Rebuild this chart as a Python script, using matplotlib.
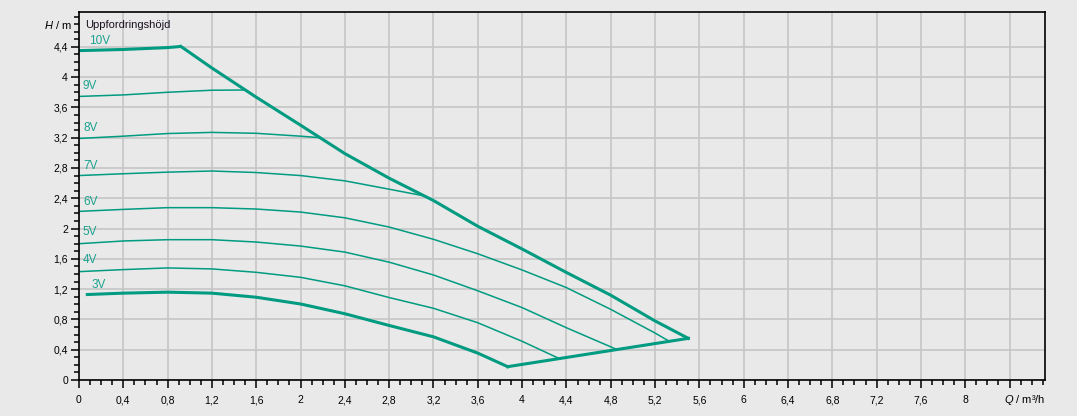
import matplotlib
matplotlib.use("Agg")
import matplotlib.pyplot as plt
from matplotlib.ticker import FixedLocator, MultipleLocator

# pump curves, Q in m3/h, H in m
x_10v = [0, 0.4, 0.8, 0.92]
y_10v = [4.35, 4.365, 4.39, 4.405]
x_max = [0.92, 1.2, 1.6, 2.0, 2.4, 2.8, 3.2, 3.6, 4.0, 4.4, 4.8, 5.2, 5.5]
y_max = [4.405, 4.12, 3.735, 3.365, 2.99, 2.665, 2.37, 2.03, 1.73, 1.42, 1.12, 0.78, 0.55]
x_bottom = [3.87, 5.5]
y_bottom = [0.176, 0.55]
x_9v = [0, 0.4, 0.8, 1.2, 1.5]
y_9v = [3.745, 3.765, 3.80, 3.827, 3.83]
x_8v = [0, 0.4, 0.8, 1.2, 1.6, 2.0, 2.18]
y_8v = [3.19, 3.22, 3.255, 3.27, 3.258, 3.22, 3.20]
x_7v = [0, 0.4, 0.8, 1.2, 1.6, 2.0, 2.4, 2.8, 3.12]
y_7v = [2.70, 2.724, 2.745, 2.76, 2.74, 2.70, 2.63, 2.52, 2.43]
x_6v = [0, 0.4, 0.8, 1.2, 1.6, 2.0, 2.4, 2.8, 3.2, 3.6, 4.0, 4.4, 4.8, 5.2, 5.33]
y_6v = [2.227, 2.253, 2.276, 2.276, 2.258, 2.218, 2.142, 2.02, 1.858, 1.667, 1.453, 1.22, 0.933, 0.62, 0.51]
x_5v = [0, 0.4, 0.8, 1.2, 1.6, 2.0, 2.4, 2.8, 3.2, 3.6, 4.0, 4.4, 4.86]
y_5v = [1.80, 1.836, 1.853, 1.853, 1.822, 1.769, 1.689, 1.556, 1.387, 1.178, 0.956, 0.69, 0.40]
x_4v = [0, 0.4, 0.8, 1.2, 1.6, 2.0, 2.4, 2.8, 3.2, 3.6, 4.0, 4.34]
y_4v = [1.431, 1.458, 1.48, 1.467, 1.422, 1.356, 1.244, 1.089, 0.947, 0.756, 0.511, 0.28]
x_3v = [0.075, 0.4, 0.8, 1.2, 1.6, 2.0, 2.4, 2.8, 3.2, 3.6, 3.87]
y_3v = [1.129, 1.147, 1.16, 1.147, 1.093, 1.004, 0.875, 0.72, 0.57, 0.355, 0.176]

x_ticks = [i * 0.4 for i in range(22)]
y_ticks = [i * 0.4 for i in range(12)]

plt.rcParams['font.family'] = ['Liberation Sans', 'DejaVu Sans']
plt.rcParams['mathtext.fontset'] = 'custom'
plt.rcParams['mathtext.it'] = 'Liberation Sans:italic'
plt.rcParams['mathtext.rm'] = 'Liberation Sans'

bg = '#e9e9e9'
line_c = '#009b80'
text_c = '#1ca28e'

fig = plt.figure(figsize=(10.77, 4.16), dpi=100, facecolor=bg)
ax = fig.add_axes([79 / 1077, 36 / 416, 966 / 1077, 368 / 416])
ax.set_facecolor(bg)

thin = 1.1
thick = 2.2
ax.plot(x_9v, y_9v, color=line_c, lw=thin)
ax.plot(x_8v, y_8v, color=line_c, lw=thin)
ax.plot(x_7v, y_7v, color=line_c, lw=thin)
ax.plot(x_6v, y_6v, color=line_c, lw=thin)
ax.plot(x_5v, y_5v, color=line_c, lw=thin)
ax.plot(x_4v, y_4v, color=line_c, lw=thin)
ax.plot(x_10v, y_10v, color=line_c, lw=thick, solid_capstyle='butt')
ax.plot(x_max, y_max, color=line_c, lw=thick, solid_joinstyle='miter')
ax.plot(x_bottom, y_bottom, color=line_c, lw=thick)
ax.plot(x_3v, y_3v, color=line_c, lw=thick, solid_joinstyle='miter')

ax.text(0.09, 4.478, '10V', color=text_c, fontsize=8.5, va='center')
ax.text(0.03, 3.884, '9V', color=text_c, fontsize=8.5, va='center')
ax.text(0.04, 3.325, '8V', color=text_c, fontsize=8.5, va='center')
ax.text(0.04, 2.83, '7V', color=text_c, fontsize=8.5, va='center')
ax.text(0.04, 2.355, '6V', color=text_c, fontsize=8.5, va='center')
ax.text(0.03, 1.96, '5V', color=text_c, fontsize=8.5, va='center')
ax.text(0.03, 1.585, '4V', color=text_c, fontsize=8.5, va='center')
ax.text(0.11, 1.255, '3V', color=text_c, fontsize=8.5, va='center')

ax.set_xlim(0, 8.72)
ax.set_ylim(0, 4.86)


def fmt(v):
    s = ('%.1f' % v).replace('.', ',')
    if s.endswith(',0'):
        s = s[:-2]
    return s


ax.xaxis.set_major_locator(FixedLocator(x_ticks))
ax.set_xticklabels([fmt(v) if v < 8.2 else '' for v in x_ticks])
ax.xaxis.set_minor_locator(MultipleLocator(0.1))
ax.yaxis.set_major_locator(FixedLocator(y_ticks))
ax.set_yticklabels([fmt(v) for v in y_ticks])
ax.yaxis.set_minor_locator(MultipleLocator(0.1))

ax.tick_params(which='major', length=6, width=1.1, labelsize=7.5, colors='black')
ax.tick_params(axis='y', which='major', pad=2)
ax.tick_params(axis='x', which='major', pad=5)
ax.tick_params(which='minor', length=3.5, width=1.1)
ax.grid(True, which='major', color='#c6c6c6', lw=1.2)
ax.set_axisbelow(True)
for s in ax.spines.values():
    s.set_color('black')
    s.set_linewidth(1.2)

fig.text(72 / 1077, 1 - 25 / 416, r'$H$ / m', ha='right', va='center', fontsize=8)
fig.text(85 / 1077, 1 - 25 / 416, 'Uppfordringshöjd', ha='left', va='center', fontsize=8, color='#1a1020')
fig.text(1045 / 1077, 1 - 400 / 416, r'$Q$ / m³/h', ha='right', va='center', fontsize=8)

fig.savefig('out.png', dpi=100, facecolor=bg)
